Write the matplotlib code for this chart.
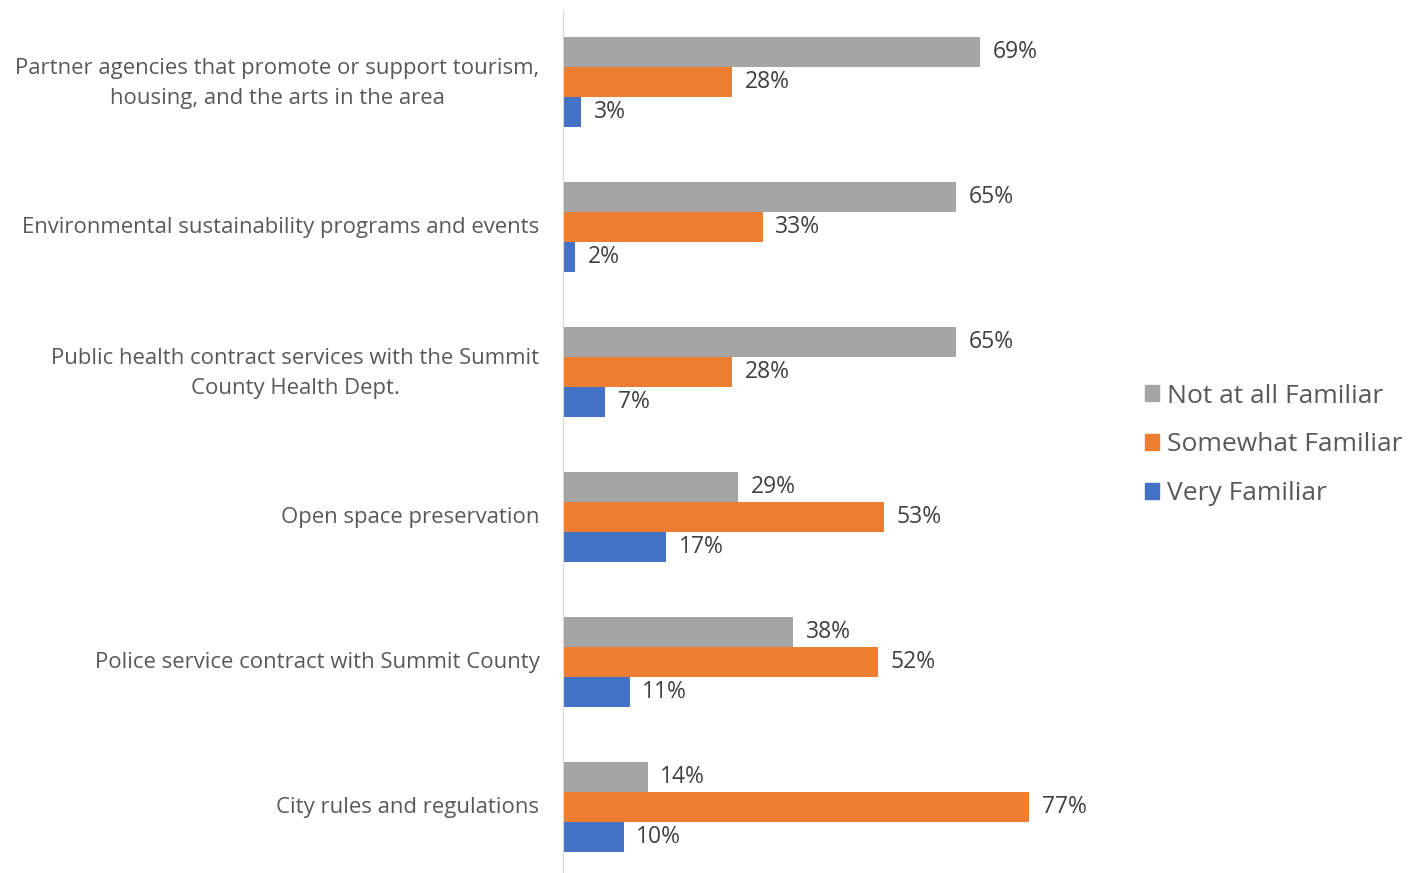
import numpy as np
import matplotlib.pyplot as plt
from matplotlib.patches import Patch
from matplotlib.transforms import ScaledTranslation

categories = ['Partner agencies that promote or support tourism,\nhousing, and the arts in the area',
              'Environmental sustainability programs and events',
              'Public health contract services with the Summit\nCounty Health Dept.',
              'Open space preservation',
              'Police service contract with Summit County',
              'City rules and regulations']
not_at_all = [69, 65, 65, 29, 38, 14]
somewhat = [28, 33, 28, 53, 52, 77]
very = [3, 2, 7, 17, 11, 10]

series_names = ['Not at all Familiar', 'Somewhat Familiar', 'Very Familiar']
colors = ['#A5A5A5', '#ED7D31', '#4472C4']

plt.rcParams['font.family'] = ['Open Sans', 'DejaVu Sans']

fig = plt.figure(figsize=(14.13, 8.73), dpi=100)
ax = fig.add_axes([563 / 1413, 0, (1107.5 - 563) / 1413, 863 / 873])

y = np.arange(len(categories))
h = 0.207
for vals, off, c in zip([not_at_all, somewhat, very], [-h, 0, h], colors):
    bars = ax.barh(y + off, vals, height=h, color=c)
    for b, v in zip(bars, vals):
        ax.text(b.get_width() + 2.1, b.get_y() + b.get_height() / 2, f'{v}%',
                va='center', ha='left', fontsize=16.5, color='#404040')

ax.set_xlim(0, 90)
ax.set_ylim(5.455, -0.497)
ax.set_yticks(y)
ax.set_yticklabels(categories, fontsize=15.9, color='#595959', multialignment='center',
                   linespacing=1.62)
ax.tick_params(axis='y', length=0, pad=17)
# labels sit a bit above the tick in the original
for lab in ax.get_yticklabels():
    dy = 6 if '\n' in lab.get_text() else 2
    lab.set_transform(lab.get_transform() + ScaledTranslation(0, dy / 100, fig.dpi_scale_trans))
ax.set_xticks([])
for s in ['top', 'right', 'bottom']:
    ax.spines[s].set_visible(False)
ax.spines['left'].set_color('#D9D9D9')

handles = [Patch(color=c) for c in colors]
fig.legend(handles, series_names, loc='center left', bbox_to_anchor=(1121 / 1413, 1 - 445 / 873),
           frameon=False, fontsize=19, labelcolor='#595959', handlelength=0.55, handleheight=0.55,
           handletextpad=0.3, labelspacing=0.9)

fig.savefig('out.png', dpi=100)
